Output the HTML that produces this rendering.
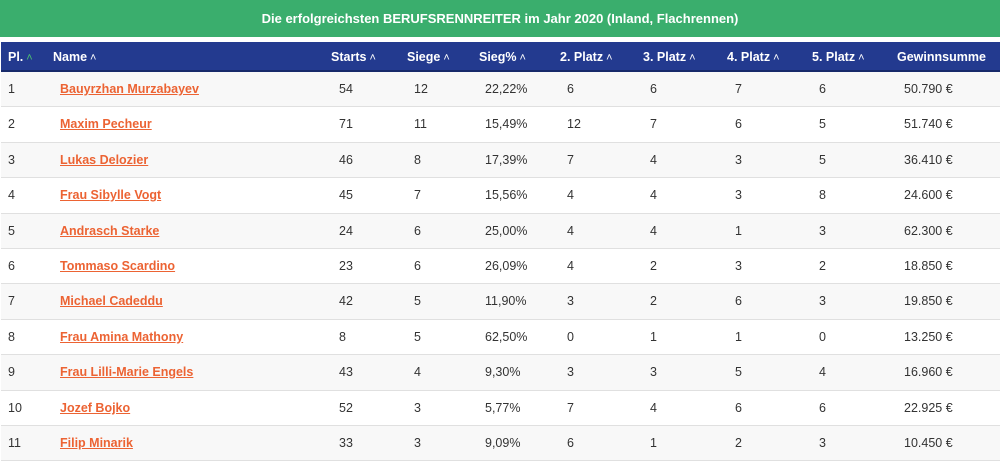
<!DOCTYPE html>
<html><head><meta charset="utf-8">
<style>
*{margin:0;padding:0;box-sizing:border-box}
body{width:1000px;height:460px;background:#fff;font-family:"Liberation Sans",sans-serif;position:relative;overflow:hidden}
#banner{position:absolute;left:0;top:0;width:1000px;height:37px;background:#3aae6d;color:#fff;font-weight:bold;font-size:13px;text-align:center;line-height:37px}
#head{position:absolute;left:1px;top:42px;width:999px;height:30px;background:#233a8f;border-bottom:2px solid #172a6a}
.h{position:absolute;top:0;line-height:30px;color:#fff;font-weight:bold;font-size:12.5px;white-space:nowrap}
.h span{font-weight:normal;font-size:11px;margin-left:3px}
.row{position:absolute;left:1px;width:999px;height:35.4px;border-bottom:1px solid #e0e0e0}
.c{position:absolute;top:0;line-height:34px;font-size:12.5px;color:#333;white-space:nowrap}
.n{color:#ec6333;font-weight:bold;text-decoration:underline}
</style></head><body>
<div id="banner">Die erfolgreichsten BERUFSRENNREITER im Jahr 2020 (Inland, Flachrennen)</div>
<div id="head"></div>
<div id="rows"></div>
<script>
const headers=[["Pl.",8],["Name",53],["Starts",331],["Siege",407],["Sieg%",479],["2. Platz",560],["3. Platz",643],["4. Platz",727],["5. Platz",812],["Gewinnsumme",897]];
const cols=[8,60,339,414,485,567,650,735,819,904];
const data=[
["1","Bauyrzhan Murzabayev","54","12","22,22%","6","6","7","6","50.790 €"],
["2","Maxim Pecheur","71","11","15,49%","12","7","6","5","51.740 €"],
["3","Lukas Delozier","46","8","17,39%","7","4","3","5","36.410 €"],
["4","Frau Sibylle Vogt","45","7","15,56%","4","4","3","8","24.600 €"],
["5","Andrasch Starke","24","6","25,00%","4","4","1","3","62.300 €"],
["6","Tommaso Scardino","23","6","26,09%","4","2","3","2","18.850 €"],
["7","Michael Cadeddu","42","5","11,90%","3","2","6","3","19.850 €"],
["8","Frau Amina Mathony","8","5","62,50%","0","1","1","0","13.250 €"],
["9","Frau Lilli-Marie Engels","43","4","9,30%","3","3","5","4","16.960 €"],
["10","Jozef Bojko","52","3","5,77%","7","4","6","6","22.925 €"],
["11","Filip Minarik","33","3","9,09%","6","1","2","3","10.450 €"]];
const head=document.getElementById('head');
headers.forEach((h,i)=>{
 const d=document.createElement('div');d.className='h';d.style.left=(h[1]-1)+'px';
 
 
 d.innerHTML=h[0]+(i<9?'<span style="color:'+(i==0?'#4cc26e':'#fff')+'">&#x2c4;</span>':'');
 head.appendChild(d);
});
const rows=document.getElementById('rows');
data.forEach((r,ri)=>{
 const row=document.createElement('div');row.className='row';
 
 
 row.style.top=(72+ri*35.4)+'px';
 row.style.background=ri%2==0?'#f8f8f8':'#fff';
 r.forEach((v,ci)=>{
  const c=document.createElement('div');c.className='c'+(ci==1?' n':'');
  c.style.left=(cols[ci]-1)+'px';c.textContent=v;
  if(ci==1){}
  else{}
  row.appendChild(c);
 });
 rows.appendChild(row);
});
</script>
</body></html>
